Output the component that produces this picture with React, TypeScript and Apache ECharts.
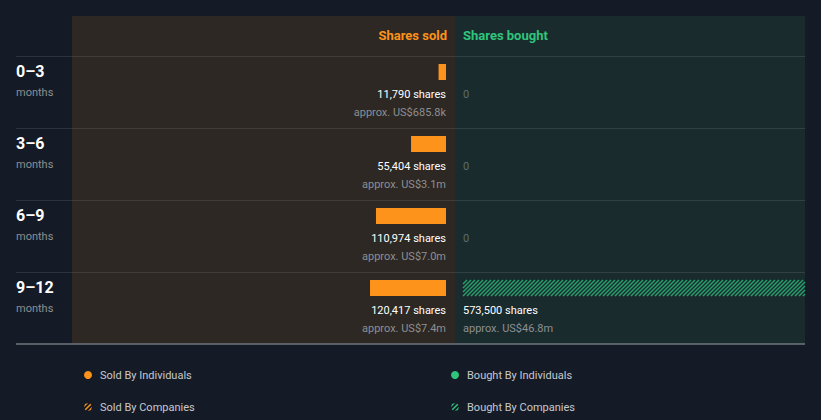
import React, { useEffect, useRef } from 'react';
import * as echarts from 'echarts';

// ---------- data ----------
const periods = ['0–3', '3–6', '6–9', '9–12'];
const periodUnit = 'months';
const soldByIndividuals = [11790, 55404, 110974, 120417];
const soldByCompanies = [0, 0, 0, 0];
const soldValueUSD = ['US$685.8k', 'US$3.1m', 'US$7.0m', 'US$7.4m'];
const boughtByIndividuals = [0, 0, 0, 0];
const boughtByCompanies = [0, 0, 0, 573500];
const boughtValueUSD = ['', '', '', 'US$46.8m'];
const headers = ['Shares sold', 'Shares bought'];
const legendSold = ['Sold By Individuals', 'Sold By Companies'];
const legendBought = ['Bought By Individuals', 'Bought By Companies'];

// ---------- style ----------
const FONT = 'Roboto, sans-serif';
const BG = '#151b26';
const SOLD_BG = '#2d2823';
const BOUGHT_BG = '#1a2b2e';
const ORANGE = '#fd931a';
const GREEN = '#2fc57c';
const HATCH_GREEN = '#27a06c';
const WHITE = '#ffffff';
const GREY = '#8c8f93';

const W = 821;
const H = 420;
const SOLD_RIGHT = 446;
const BOUGHT_LEFT = 463;
const PANEL_RIGHT = 805;
const GRID_TOP = 56;
const ROW_H = 72;
const SCALE_MAX = 580000; // value spanning the sold plot width
const SOLD_LEFT = 80;

const fmt = (n: number) => n.toLocaleString('en-US');

function txt(x: number, y: number, text: string, opts: any) {
  return {
    type: 'text',
    x,
    y,
    silent: true,
    style: {
      text,
      fill: opts.fill,
      fontSize: opts.size,
      fontFamily: FONT,
      fontWeight: opts.weight || 'normal',
      align: opts.align || 'left',
      textAlign: opts.align || 'left',
      verticalAlign: 'middle',
      textVerticalAlign: 'middle',
    },
  };
}

function hatch(x0: number, x1: number, yTop: number, h: number, color: string) {
  const lines: any[] = [];
  const step = 4;
  for (let a = x0 - h; a < x1; a += step) {
    const t0 = Math.max(0, x0 - a);
    const t1 = Math.min(h, x1 - a);
    if (t1 <= t0) continue;
    lines.push({
      type: 'line',
      silent: true,
      shape: { x1: a + t0, y1: yTop + h - t0, x2: a + t1, y2: yTop + h - t1 },
      style: { stroke: color, lineWidth: 1.5 },
    });
  }
  return lines;
}

function hatchCirclePath() {
  const r = 5;
  const stripes = [
    [2.6, 5.2],
    [8.7, 11.3],
    [14.8, 17.4],
  ];
  let d = '';
  for (const [k1, k2] of stripes) {
    const pts: number[][] = [];
    for (const k of [k1, k2]) {
      const dist = Math.abs(k - 10) / Math.SQRT2;
      const L = Math.sqrt(Math.max(0, r * r - dist * dist));
      const e = L / Math.SQRT2;
      pts.push([k / 2 - e, k / 2 + e], [k / 2 + e, k / 2 - e]);
    }
    const p = (q: number[]) => `${q[0].toFixed(2)} ${q[1].toFixed(2)}`;
    d += `M${p(pts[0])} L${p(pts[1])} L${p(pts[3])} L${p(pts[2])} Z `;
  }
  return 'path://' + d.trim();
}

export default function App() {
  const ref = useRef<HTMLDivElement>(null);

  useEffect(() => {
    document.body.style.margin = '0';
    const chart = echarts.init(ref.current!, null, { renderer: 'svg' });

    const soldData = periods.map((_, i) => [i, soldByIndividuals[i], soldByCompanies[i]]);
    const boughtData = periods.map((_, i) => [i, boughtByIndividuals[i], boughtByCompanies[i]]);

    const soldRender = (params: any, api: any) => {
      const row = api.value(0);
      const ind = api.value(1);
      const comp = api.value(2);
      const total = ind + comp;
      const base = api.coord([0, row]);
      const band = api.size([0, 1])[1];
      const top = base[1] - band / 2;
      const children: any[] = [];
      children.push(txt(16, top + 15, periods[row], { fill: WHITE, size: 16, weight: 'bold' }));
      children.push(txt(16, top + 36, periodUnit, { fill: GREY, size: 11 }));
      if (total > 0) {
        const xi = api.coord([ind, row])[0];
        const xt = api.coord([total, row])[0];
        if (ind > 0) {
          children.push({
            type: 'rect',
            shape: { x: xi, y: top + 8, width: base[0] - xi, height: 16 },
            style: { fill: ORANGE },
          });
        }
        if (comp > 0) children.push(...hatch(xt, xi, top + 8, 16, ORANGE));
        children.push(txt(base[0], top + 38, `${fmt(total)} shares`, { fill: WHITE, size: 11, align: 'right' }));
        children.push(
          txt(base[0], top + 56, `approx. ${soldValueUSD[row]}`, { fill: GREY, size: 11, align: 'right' })
        );
      } else {
        children.push(txt(base[0], top + 38, '0', { fill: '#6f6a66', size: 11, align: 'right' }));
      }
      return { type: 'group', children };
    };

    const boughtRender = (params: any, api: any) => {
      const row = api.value(0);
      const ind = api.value(1);
      const comp = api.value(2);
      const total = ind + comp;
      const base = api.coord([0, row]);
      const band = api.size([0, 1])[1];
      const top = base[1] - band / 2;
      const cs = params.coordSys;
      const xMax = cs.x + cs.width;
      const children: any[] = [];
      if (total > 0) {
        const xi = Math.min(api.coord([ind, row])[0], xMax);
        const xt = Math.min(api.coord([total, row])[0], xMax);
        if (ind > 0) {
          children.push({
            type: 'rect',
            shape: { x: base[0], y: top + 8, width: xi - base[0], height: 16 },
            style: { fill: GREEN },
          });
        }
        if (comp > 0) children.push(...hatch(xi, xt, top + 8, 16, HATCH_GREEN));
        children.push(txt(base[0], top + 38, `${fmt(total)} shares`, { fill: WHITE, size: 11 }));
        children.push(txt(base[0], top + 56, `approx. ${boughtValueUSD[row]}`, { fill: GREY, size: 11 }));
      } else {
        children.push(txt(base[0], top + 38, '0', { fill: '#5d6e6c', size: 11 }));
      }
      return { type: 'group', children };
    };

    const sep: any[] = [];
    for (let i = 0; i < periods.length; i++) {
      const y = GRID_TOP + ROW_H * i + 0.5;
      sep.push({
        type: 'line',
        z: -5,
        silent: true,
        shape: { x1: 16, y1: y, x2: PANEL_RIGHT, y2: y },
        style: { stroke: 'rgba(255,255,255,0.1)', lineWidth: 1 },
      });
    }
    const bottomY = GRID_TOP + ROW_H * periods.length - 0.5;

    const hatchIcon = hatchCirclePath();

    const legendCommon = {
      top: 368,
      height: 60,
      padding: 0,
      orient: 'vertical',
      itemWidth: 12,
      itemHeight: 8,
      itemGap: 18,
      selectedMode: false,
      textStyle: { color: '#c5c9ce', fontSize: 11, fontFamily: FONT, lineHeight: 14, padding: [0, 0, 0, 1] },
    };

    const option: any = {
      animation: false,
      backgroundColor: BG,
      textStyle: { fontFamily: FONT },
      grid: [
        { left: SOLD_LEFT, right: W - SOLD_RIGHT, top: GRID_TOP, height: ROW_H * periods.length },
        { left: BOUGHT_LEFT, right: W - PANEL_RIGHT, top: GRID_TOP, height: ROW_H * periods.length },
      ],
      xAxis: [
        { type: 'value', gridIndex: 0, min: 0, max: SCALE_MAX, inverse: true, show: false },
        {
          type: 'value',
          gridIndex: 1,
          min: 0,
          max: (SCALE_MAX * (PANEL_RIGHT - BOUGHT_LEFT)) / (SOLD_RIGHT - SOLD_LEFT),
          show: false,
        },
      ],
      yAxis: [
        { type: 'category', gridIndex: 0, data: periods, inverse: true, show: false },
        { type: 'category', gridIndex: 1, data: periods, inverse: true, show: false },
      ],
      legend: [
        {
          ...legendCommon,
          left: 84,
          data: [
            { name: legendSold[0], icon: 'circle', itemStyle: { color: ORANGE } },
            { name: legendSold[1], icon: hatchIcon, itemStyle: { color: ORANGE } },
          ],
        },
        {
          ...legendCommon,
          left: 451,
          data: [
            { name: legendBought[0], icon: 'circle', itemStyle: { color: GREEN } },
            { name: legendBought[1], icon: hatchIcon, itemStyle: { color: GREEN } },
          ],
        },
      ],
      graphic: [
        {
          type: 'rect',
          z: -10,
          silent: true,
          shape: { x: 72, y: 16, width: 455 - 72, height: bottomY - 16 },
          style: { fill: SOLD_BG },
        },
        {
          type: 'rect',
          z: -10,
          silent: true,
          shape: { x: 455, y: 16, width: PANEL_RIGHT - 455, height: bottomY - 16 },
          style: { fill: BOUGHT_BG },
        },
        ...sep,
        {
          type: 'line',
          z: -5,
          silent: true,
          shape: { x1: 16, y1: bottomY + 0.5, x2: PANEL_RIGHT, y2: bottomY + 0.5 },
          style: { stroke: '#9aa2a6', lineWidth: 1 },
        },
        {
          type: 'text',
          x: 447,
          y: 35,
          silent: true,
          style: {
            text: headers[0],
            fill: ORANGE,
            fontSize: 13,
            fontWeight: 'bold',
            fontFamily: FONT,
            align: 'right',
            textAlign: 'right',
            verticalAlign: 'middle',
            textVerticalAlign: 'middle',
          },
        },
        {
          type: 'text',
          x: BOUGHT_LEFT,
          y: 35,
          silent: true,
          style: {
            text: headers[1],
            fill: GREEN,
            fontSize: 13,
            fontWeight: 'bold',
            fontFamily: FONT,
            align: 'left',
            textAlign: 'left',
            verticalAlign: 'middle',
            textVerticalAlign: 'middle',
          },
        },
      ],
      series: [
        {
          name: legendSold[0],
          type: 'custom',
          xAxisIndex: 0,
          yAxisIndex: 0,
          encode: { x: 1, y: 0 },
          renderItem: soldRender,
          data: soldData,
          silent: true,
        },
        { name: legendSold[1], type: 'bar', xAxisIndex: 0, yAxisIndex: 0, data: [] },
        { name: legendBought[0], type: 'bar', xAxisIndex: 1, yAxisIndex: 1, data: [] },
        {
          name: legendBought[1],
          type: 'custom',
          xAxisIndex: 1,
          yAxisIndex: 1,
          encode: { x: 2, y: 0 },
          renderItem: boughtRender,
          data: boughtData,
          silent: true,
        },
      ],
    };

    chart.setOption(option);
    return () => chart.dispose();
  }, []);

  return <div ref={ref} style={{ width: W, height: H }} />;
}
